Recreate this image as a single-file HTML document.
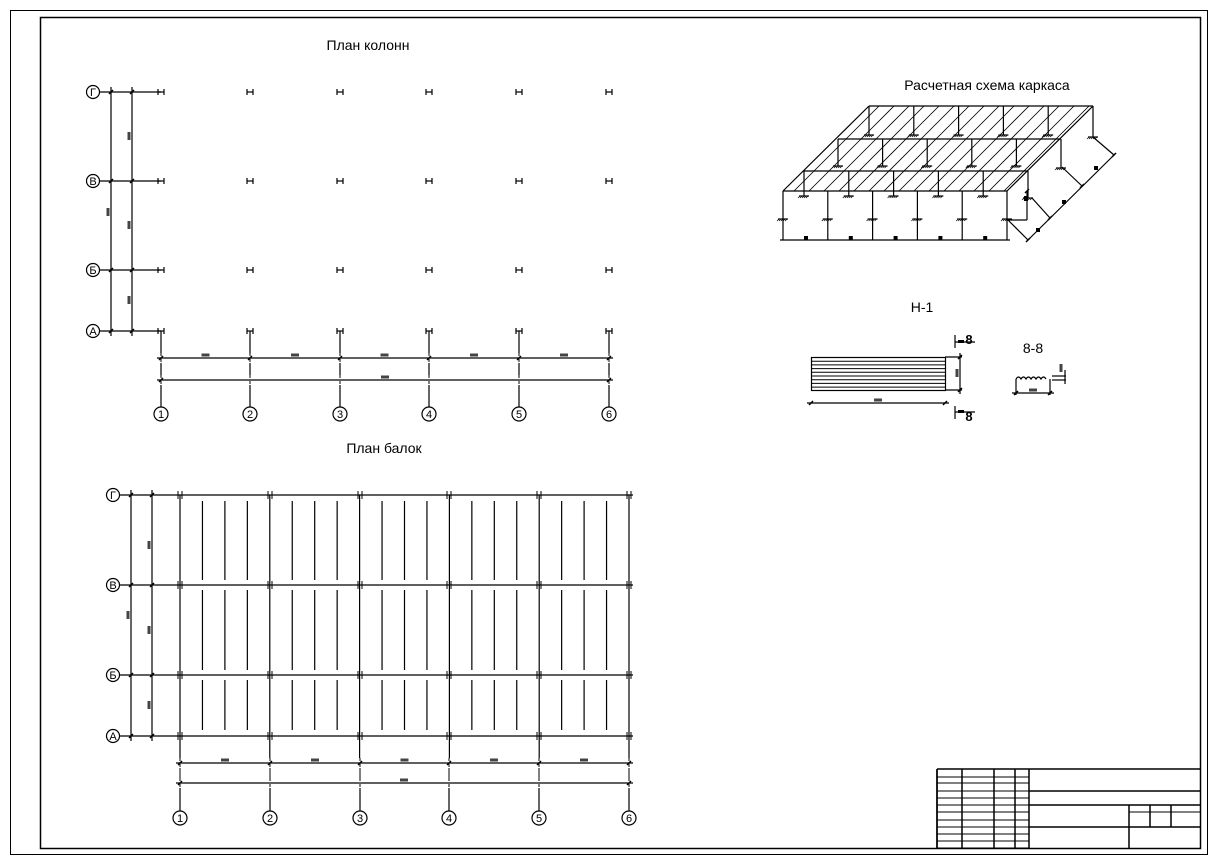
<!DOCTYPE html>
<html><head><meta charset="utf-8"><style>
html,body{margin:0;padding:0;background:#fff}
svg{display:block}
text{font-family:"Liberation Sans",sans-serif;fill:#000}
</style></head><body>
<svg id="s" width="1216" height="864" viewBox="0 0 1216 864" xmlns="http://www.w3.org/2000/svg" stroke="#000" fill="none" stroke-width="1.2">
<rect x="10.5" y="10.5" width="1197" height="844" stroke-width="1"/>
<rect x="40.5" y="17.5" width="1160" height="831" stroke-width="1.5"/>
<g stroke="none" font-size="14" text-anchor="middle">
<text x="368" y="50">План колонн</text>
<text x="384" y="453">План балок</text>
<text x="987" y="90">Расчетная схема каркаса</text>
<text x="922" y="312">Н-1</text>
<text x="1033" y="353">8-8</text>
</g>
<g stroke="none" font-size="11" text-anchor="middle">
<text x="93" y="96">Г</text><text x="93" y="185">В</text><text x="93" y="274">Б</text><text x="93" y="335">А</text>
<text x="161" y="418">1</text><text x="250" y="418">2</text><text x="340" y="418">3</text><text x="429" y="418">4</text><text x="519" y="418">5</text><text x="609" y="418">6</text>
<text x="113" y="499">Г</text><text x="113" y="589">В</text><text x="113" y="679">Б</text><text x="113" y="740">А</text>
<text x="180" y="822">1</text><text x="270" y="822">2</text><text x="360" y="822">3</text><text x="449" y="822">4</text><text x="539" y="822">5</text><text x="629" y="822">6</text>
</g>
<g stroke="none" font-size="13" font-weight="bold" text-anchor="middle">
<text x="969" y="344">8</text><text x="969" y="421">8</text>
</g>
<g id="g"></g>
</svg>
<script>
var g=document.getElementById('g'),NS='http://www.w3.org/2000/svg';
function L(x1,y1,x2,y2,w,d){var e=document.createElementNS(NS,'line');e.setAttribute('x1',x1);e.setAttribute('y1',y1);e.setAttribute('x2',x2);e.setAttribute('y2',y2);if(w)e.setAttribute('stroke-width',w);if(d)e.setAttribute('stroke-dasharray',d);g.appendChild(e);}
function C(x,y,r){var e=document.createElementNS(NS,'circle');e.setAttribute('cx',x);e.setAttribute('cy',y);e.setAttribute('r',r);g.appendChild(e);}
function R(x,y,w,h,f){var e=document.createElementNS(NS,'rect');e.setAttribute('x',x);e.setAttribute('y',y);e.setAttribute('width',w);e.setAttribute('height',h);if(f){e.setAttribute('fill','#000');e.setAttribute('stroke','none');}g.appendChild(e);}
function T(x,y){L(x-2,y+2,x+2,y-2,1.5);}
function dimtxt(x,y,rot){var e=document.createElementNS(NS,'rect');e.setAttribute('x',x-4);e.setAttribute('y',y-1.5);e.setAttribute('width',8);e.setAttribute('height',3);e.setAttribute('fill','#444');e.setAttribute('stroke','none');if(rot)e.setAttribute('transform','rotate(-90 '+x+' '+y+')');g.appendChild(e);}
// ---- column plan
var rows=[92,181,270,331],cols=[161,250,340,429,519,609];
rows.forEach(function(y,i){C(93,y,6.5);L(100,y,161,y);T(111,y);T(132,y);
 cols.forEach(function(x){L(x-3,y-3,x-3,y+3);L(x+3,y-3,x+3,y+3);L(x-3,y,x+3,y);});});
L(111,87,111,336);L(132,87,132,336);
[[132,136],[132,225],[132,300],[111,212]].forEach(function(p){dimtxt(p[0]-3,p[1],1);});
cols.forEach(function(x,i){L(x,331,x,353);L(x,353,x,363,1,'3,3');L(x,363,x,375);L(x,375,x,385,1,'3,3');L(x,385,x,407);C(x,414,7);T(x,358);});
L(157,358,613,358);L(157,380,613,380);T(161,380);T(609,380);
for(var i=0;i<5;i++)dimtxt((cols[i]+cols[i+1])/2,355);dimtxt(385,377);
// ---- beam plan
var br=[495,585,675,736],bc=[180,270,360,449,539,629];
br.forEach(function(y){C(113,y,6.5);L(120,y,633,y);T(131,y);T(152,y);
 bc.forEach(function(x){L(x-2,y-4,x-2,y+4,1);L(x+2,y-4,x+2,y+4,1);});});
L(131,490,131,741);L(152,490,152,741);
[[152,545],[152,630],[152,705],[131,615]].forEach(function(p){dimtxt(p[0]-3,p[1],1);});
for(var k=0;k<=20;k++){var x=180+k*22.45;
 if(k%4==0){L(x,495,x,758);}else{L(x,501,x,580);L(x,590,x,670);L(x,680,x,730);}}
bc.forEach(function(x){L(x,758,x,768,1,'3,3');L(x,768,x,778,1);L(x,778,x,788,1,'3,3');L(x,788,x,811);C(x,818,7);T(x,763);});
L(176,763,633,763);L(176,783,633,783);T(180,783);T(629,783);
for(var i=0;i<5;i++)dimtxt((bc[i]+bc[i+1])/2,760);dimtxt(404,780);
// ---- 3D frame
var cp=document.createElementNS(NS,'clipPath');cp.id='cp';var pp=document.createElementNS(NS,'polygon');pp.setAttribute('points','869,106 1093,106 1007,191 783,191');cp.appendChild(pp);g.appendChild(cp);
var hg=document.createElementNS(NS,'g');hg.setAttribute('clip-path','url(#cp)');g.appendChild(hg);
for(var x=760;x<1200;x+=15){var e=document.createElementNS(NS,'line');e.setAttribute('x1',x);e.setAttribute('y1',195);e.setAttribute('x2',x+95);e.setAttribute('y2',100);e.setAttribute('stroke-width','0.8');hg.appendChild(e);}
function sup(x,y){L(x-5,y,x+5,y);for(var i=-4;i<=4;i+=2)L(x+i,y,x+i-2,y+2,0.7);}
function frame(y,x0,x1,gy){L(x0,y,x1,y);var st=(x1-x0)/5;for(var i=0;i<5;i++){var x=x0+st*i;L(x,y,x,gy);sup(x,gy);}L(x1,y,x1,gy+2);sup(x1,gy+2);}
L(869,106,783,191);L(1093,106,1007,191);
frame(106,869,1093,135);frame(139,838,1061,166);frame(171,804,1028,196);
L(783,191,1007,191);for(var i=0;i<=5;i++){var x=783+44.8*i;L(x,191,x,240);sup(x,219);}
L(780,240,1010,240);for(var i=0;i<5;i++)R(804+44.8*i,236,4,4,1);
L(1028,240,1114,155);T(1028,240);T(1050,218);T(1082,186);T(1114,155);
L(1007,219,1028,240);L(1032,198,1050,218);L(1062,167,1082,186);L(1093,137,1114,155);
L(1027,191,1027,220);L(1007,220,1027,220);T(1027,191);R(1024,196,4,5,1);
R(1036,228,4,4,1);R(1062,200,4,4,1);R(1094,166,4,4,1);
// ---- H-1
R(811.5,357.5,134,33);for(var i=1;i<9;i++)L(811,357.5+i*3.7,945,357.5+i*3.7,1);
L(807,403,949,403);T(811,403);T(945,403);dimtxt(878,400);
L(945,357,962,357);L(945,390,962,390);L(960,353,960,394);T(960,357);T(960,390);dimtxt(957,373,1);
L(955,335,955,348);L(955,342,975,342);L(955,406,955,419);L(955,412,975,412);
R(958,340,6,3,1);R(958,410,6,3,1);
var pa=document.createElementNS(NS,'path');pa.setAttribute('d','M1016,379 q2.5,-4 5,0 q2.5,-4 5,0 q2.5,-4 5,0 q2.5,-4 5,0 q2.5,-4 5,0 q2.5,-4 5,0');g.appendChild(pa);
L(1016,379,1016,395);L(1050,379,1050,395);L(1012,393,1054,393);T(1016,393);T(1050,393);dimtxt(1033,390);
L(1052,376,1066,376);L(1052,380,1066,380);L(1065,370,1065,384);dimtxt(1061,368,1);
// ---- title block
var X=[937,962,994,1015,1029],Y=[769,777,783,791,798,805,812,820,827,834,841,848];
L(937,769,1200,769,1.5);L(937,769,937,848,1.5);
X.forEach(function(x){L(x,769,x,848,1.5);});
Y.forEach(function(y){L(937,y,1029,y,1);});
L(1029,791,1200,791,1.5);L(1029,805,1200,805,1.5);L(1029,827,1200,827,1.5);
L(1129,805,1129,848,1.5);L(1150,805,1150,827,1.5);L(1171,805,1171,827,1.5);L(1129,812,1200,812,1);
</script>
</body></html>
